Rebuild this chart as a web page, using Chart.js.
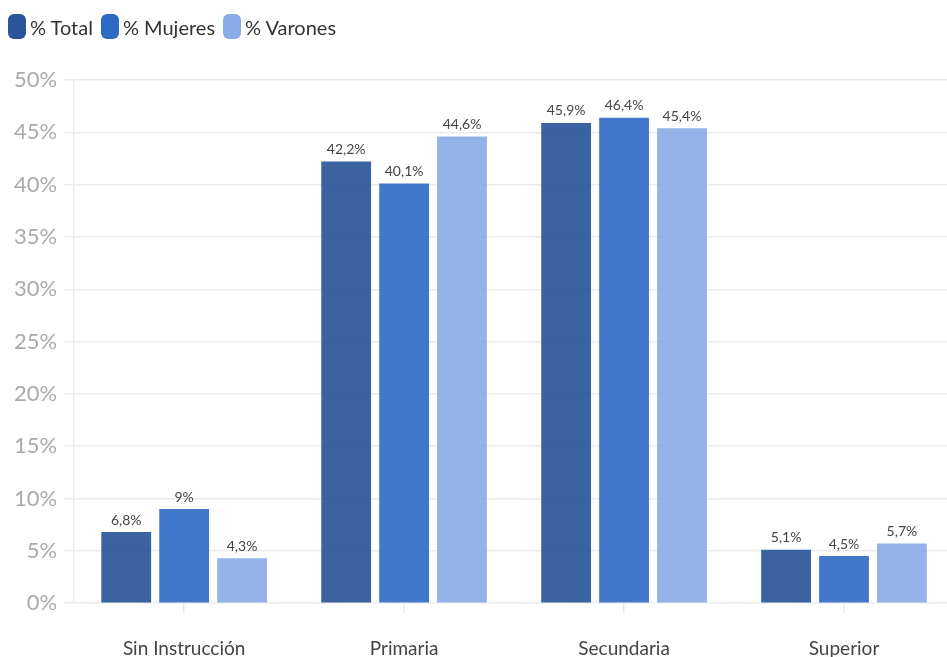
<!DOCTYPE html>
<html>
<head>
<meta charset="utf-8">
<script src="https://cdn.jsdelivr.net/npm/chart.js@4"></script>
<style>
  html, body { margin: 0; padding: 0; background: #fff; overflow: hidden; }
  #wrap { position: relative; width: 958px; height: 684px; }
  #legend { position: absolute; left: 8px; top: 14px; display: flex; align-items: center;
            font-family: Lato, sans-serif; font-size: 20px; color: #333; }
  #legend .item { display: flex; align-items: center; margin-right: 8px; }
  #legend .box { width: 18px; height: 25px; border-radius: 6px; margin-right: 4px; }
</style>
</head>
<body>
<div id="wrap"><div id="legend"></div><canvas id="chart"></canvas></div>
<script>
const categories = ["Sin Instrucción", "Primaria", "Secundaria", "Superior"];
const seriesNames = ["% Total", "% Mujeres", "% Varones"];
const totalValues = [6.8, 42.2, 45.9, 5.1];
const mujeresValues = [9, 40.1, 46.4, 4.5];
const varonesValues = [4.3, 44.6, 45.4, 5.7];
const yTicks = [0, 5, 10, 15, 20, 25, 30, 35, 40, 45, 50];

const solidColors = ["#2a5599", "#2e69c4", "#8aaae6"];
const barColors = ["rgba(42,85,153,0.92)", "rgba(46,105,196,0.9)", "rgba(138,170,230,0.9)"];

function fmt(v) {
    return String(v).replace('.', ',') + '%';
}

// legend as html so box/text spacing matches
const legendEl = document.getElementById("legend");
seriesNames.forEach(function(name, i) {
    const item = document.createElement("div");
    item.className = "item";
    item.innerHTML = '<span class="box" style="background:' + solidColors[i] + '"></span><span>' + name + '</span>';
    legendEl.appendChild(item);
});

const barLabels = {
    id: 'barLabels',
    afterDatasetsDraw(chart) {
        const ctx = chart.ctx;
        ctx.save();
        ctx.font = '14px Lato';
        ctx.fillStyle = '#444';
        ctx.textAlign = 'center';
        ctx.textBaseline = 'bottom';
        chart.data.datasets.forEach(function(ds, i) {
            chart.getDatasetMeta(i).data.forEach(function(bar, j) {
                ctx.fillText(fmt(ds.data[j]), bar.x, bar.y - 5);
            });
        });
        ctx.restore();
    }
};

new Chart(document.getElementById("chart"), {
    type: 'bar',
    data: {
        labels: categories,
        datasets: [
            { label: seriesNames[0], data: totalValues, backgroundColor: barColors[0] },
            { label: seriesNames[1], data: mujeresValues, backgroundColor: barColors[1] },
            { label: seriesNames[2], data: varonesValues, backgroundColor: barColors[2] }
        ]
    },
    options: {
        responsive: true,
        maintainAspectRatio: false,
        animation: false,
        datasets: { bar: { categoryPercentage: 0.79, barPercentage: 0.86 } },
        layout: { padding: { left: 7, right: 4, top: 80, bottom: 0 } },
        plugins: {
            legend: { display: false },
            tooltip: { enabled: false }
        },
        scales: {
            x: {
                grid: {
                    offset: false,
                    drawOnChartArea: false,
                    drawTicks: true,
                    tickLength: 10,
                    color: '#ebebeb',
                    lineWidth: 1.5
                },
                border: { display: false },
                ticks: {
                    font: { family: 'Lato', size: 19 },
                    color: '#444',
                    padding: 24
                }
            },
            y: {
                min: 0,
                max: 50,
                afterBuildTicks(axis) {
                    axis.ticks = yTicks.map(v => ({ value: v }));
                },
                grid: { color: '#ebebeb', lineWidth: 1.5, tickLength: 10 },
                border: { display: true, color: '#ebebeb', width: 1.5 },
                ticks: {
                    font: { family: 'Lato', size: 22 },
                    color: '#aaa',
                    padding: 7,
                    callback: v => v + '%'
                }
            }
        }
    },
    plugins: [barLabels]
});
</script>
</body>
</html>
